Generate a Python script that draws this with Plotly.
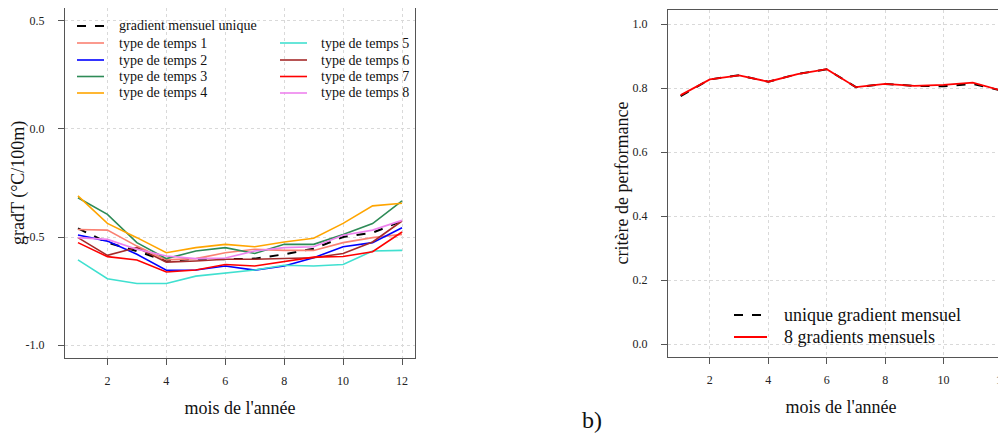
import plotly.graph_objects as go

months = list(range(1, 13))

grad_unique = [-0.46, -0.526, -0.565, -0.611, -0.60, -0.603, -0.60, -0.58, -0.554, -0.50, -0.48, -0.426]
type1 = [-0.465, -0.468, -0.542, -0.606, -0.60, -0.573, -0.557, -0.562, -0.562, -0.526, -0.503, -0.488]
type2 = [-0.491, -0.519, -0.58, -0.654, -0.653, -0.634, -0.653, -0.634, -0.596, -0.545, -0.526, -0.457]
type3 = [-0.318, -0.395, -0.526, -0.60, -0.565, -0.549, -0.576, -0.534, -0.534, -0.488, -0.438, -0.333]
type4 = [-0.31, -0.437, -0.503, -0.573, -0.549, -0.534, -0.545, -0.523, -0.506, -0.437, -0.356, -0.344]
type5 = [-0.606, -0.693, -0.715, -0.715, -0.681, -0.668, -0.653, -0.631, -0.634, -0.627, -0.565, -0.562]
type6 = [-0.503, -0.585, -0.549, -0.616, -0.611, -0.603, -0.603, -0.60, -0.596, -0.576, -0.523, -0.426]
type7 = [-0.526, -0.591, -0.606, -0.662, -0.653, -0.627, -0.634, -0.612, -0.593, -0.59, -0.568, -0.477]
type8 = [-0.503, -0.511, -0.557, -0.588, -0.60, -0.597, -0.565, -0.549, -0.545, -0.492, -0.468, -0.423]

types = [type1, type2, type3, type4, type5, type6, type7, type8]
type_names = ["type de temps %d" % i for i in range(1, 9)]
type_colors = ["salmon", "blue", "seagreen", "orange", "turquoise", "brown", "red", "violet"]

perf_unique = [0.775, 0.827, 0.84, 0.82, 0.844, 0.859, 0.803, 0.813, 0.807, 0.806, 0.813, 0.792]
perf_8 = [0.778, 0.827, 0.84, 0.82, 0.844, 0.859, 0.803, 0.813, 0.807, 0.81, 0.817, 0.792]

month_ticks = [2, 4, 6, 8, 10, 12]
grad_ticks = [-1.0, -0.5, 0.0, 0.5]
grad_tick_labels = ["-1.0", "-0.5", "0.0", "0.5"]
perf_ticks = [0.0, 0.2, 0.4, 0.6, 0.8, 1.0]
perf_tick_labels = ["0.0", "0.2", "0.4", "0.6", "0.8", "1.0"]

FONT = "Liberation Serif"
W, H = 1006, 438
OFF = 8  # page body margin offset (screen px -> figure px)

fig = go.Figure()

fig.add_trace(go.Scatter(x=months, y=grad_unique, mode="lines", name="gradient mensuel unique",
                         line=dict(color="black", width=2, dash="dash"), xaxis="x", yaxis="y"))
for vals, nm, col in zip(types, type_names, type_colors):
    fig.add_trace(go.Scatter(x=months, y=vals, mode="lines", name=nm,
                             line=dict(color=col, width=1.6), xaxis="x", yaxis="y"))

fig.add_trace(go.Scatter(x=months, y=perf_unique, mode="lines", name="unique gradient mensuel",
                         line=dict(color="black", width=2, dash="dash"), xaxis="x2", yaxis="y2"))
fig.add_trace(go.Scatter(x=months, y=perf_8, mode="lines", name="8 gradients mensuels",
                         line=dict(color="red", width=1.8), xaxis="x2", yaxis="y2"))

axis_common = dict(showline=True, linecolor="#555", linewidth=1.2, ticks="outside", ticklen=6,
                   tickcolor="#555", showgrid=True, gridcolor="#d9d9d9", griddash="dot", gridwidth=1,
                   zeroline=False, automargin=False, tickfont=dict(family=FONT, size=12, color="#222"))

shapes = []
annotations = []


def px_x(x):
    return (x - OFF) / W


def px_y(y):
    return 1 - (y - OFF) / H


def legend_entry(x0, x1, xt, y, color, dash, name, size, width):
    shapes.append(dict(type="line", xref="paper", yref="paper", x0=px_x(x0), x1=px_x(x1),
                       y0=px_y(y), y1=px_y(y), line=dict(color=color, width=width, dash=dash)))
    annotations.append(dict(text=name, xref="paper", yref="paper", x=px_x(xt), y=px_y(y),
                            xanchor="left", yanchor="middle", showarrow=False,
                            font=dict(family=FONT, size=size, color="#111")))


rows = [26, 43, 60, 76.5, 93]
legend_entry(77, 104, 117, rows[0], "black", "dash", "gradient mensuel unique", 14, 2)
for i in range(4):
    legend_entry(77, 104, 117, rows[i + 1], type_colors[i], "solid", type_names[i], 14, 1.6)
for i in range(4, 8):
    legend_entry(280, 307, 319, rows[i - 3], type_colors[i], "solid", type_names[i], 14, 1.6)

legend_entry(734, 767, 782, 315, "black", "dash", "unique gradient mensuel", 18, 2)
legend_entry(734, 767, 782, 337, "red", "solid", "8 gradients mensuels", 18, 1.8)

# y-axis titles
annotations.append(dict(text="gradT (°C/100m)", x=px_x(18), y=px_y(183), xref="paper", yref="paper",
                        xanchor="center", yanchor="middle", textangle=-90, showarrow=False,
                        font=dict(family=FONT, size=18, color="#111")))
annotations.append(dict(text="critère de performance", x=px_x(622), y=px_y(183.5), xref="paper",
                        yref="paper", xanchor="center", yanchor="middle", textangle=-90,
                        showarrow=False, font=dict(family=FONT, size=18, color="#111")))

annotations.append(dict(text="b)", x=px_x(592), y=px_y(420), xref="paper", yref="paper",
                        xanchor="center", yanchor="middle",
                        showarrow=False, font=dict(family=FONT, size=24, color="#111")))

fig.update_layout(
    width=W, height=H,
    margin=dict(l=0, r=0, t=0, b=0),
    paper_bgcolor="white", plot_bgcolor="white",
    showlegend=False,
    font=dict(family=FONT, color="#111"),
    xaxis=dict(domain=[px_x(65), px_x(415)], range=[0.56, 12.44], tickvals=month_ticks,
               mirror=True, anchor="y", ticklabelstandoff=5,
               title=dict(text="mois de l'année", font=dict(family=FONT, size=18), standoff=14),
               **axis_common),
    yaxis=dict(domain=[px_y(358), px_y(8)], range=[-1.06, 0.56], tickvals=grad_ticks,
               ticktext=grad_tick_labels, mirror=True, anchor="x", ticklabelstandoff=11,
               **axis_common),
    xaxis2=dict(domain=[px_x(668), 1.0], range=[0.567, 12.41], tickvals=month_ticks,
                mirror=True, anchor="y2", ticklabelstandoff=5,
                title=dict(text="mois de l'année", font=dict(family=FONT, size=18), standoff=14),
                **axis_common),
    yaxis2=dict(domain=[px_y(357), px_y(10)], range=[-0.04, 1.044], tickvals=perf_ticks,
                ticktext=perf_tick_labels, mirror=False, anchor="x2", ticklabelstandoff=11,
                **axis_common),
    shapes=shapes,
    annotations=annotations,
)

fig.write_html("out.html")
